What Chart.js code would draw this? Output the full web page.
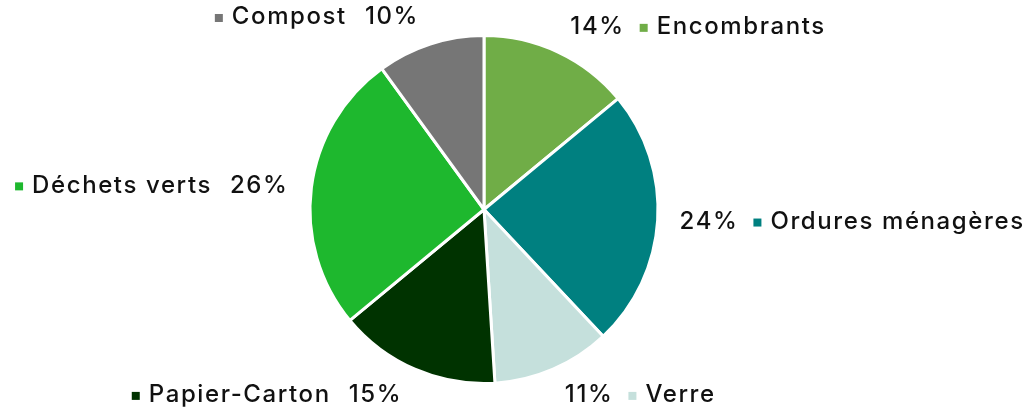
<!doctype html>
<html lang="fr">
<head>
  <meta charset="utf-8" />
  <title>Répartition des déchets</title>
  <script src="https://cdn.jsdelivr.net/npm/chart.js@4.4.3/dist/chart.umd.min.js"></script>
  <style>
    html, body { margin: 0; padding: 0; background: #fff; }
    .chart-wrap { position: relative; width: 1029px; height: 414px; }
  </style>
</head>
<body>
  <div class="chart-wrap">
    <canvas id="pieChart"></canvas>
  </div>
  <script>
    const categories = ["Encombrants", "Ordures ménagères", "Verre", "Papier-Carton", "Déchets verts", "Compost"];
    const shares = [14, 24, 11, 15, 26, 10];
    const sliceColors = ["#70ad47", "#008080", "#c5e0dc", "#003300", "#1eb82e", "#767676"];

    const FONT = "500 24px Inter, 'DejaVu Sans', sans-serif";

    // labels outside the pie: "pct ■ name" on the right side, "■ name pct" on the left
    const outsideLabels = {
      id: "outsideLabels",
      afterDatasetsDraw(chart) {
        const ctx = chart.ctx;
        const meta = chart.getDatasetMeta(0);
        ctx.save();
        ctx.font = FONT;
        ctx.letterSpacing = "1.6px";
        ctx.textBaseline = "middle";
        ctx.textAlign = "left";
        meta.data.forEach((arc, i) => {
          const p = arc.getProps(["x", "y", "startAngle", "endAngle", "outerRadius"], true);
          const mid = (p.startAngle + p.endAngle) / 2;
          const r = p.outerRadius + 17;
          const ax = p.x + Math.cos(mid) * r;
          const ay = p.y + Math.sin(mid) * r;
          const ty = ay + 12 * Math.sin(mid) * Math.abs(Math.sin(mid));
          const pct = shares[i] + "%";
          const name = categories[i];
          const pctW = ctx.measureText(pct).width;
          const nameW = ctx.measureText(name).width;
          const sq = 8;
          if (ax >= p.x) {
            let x = ax + 5;
            ctx.fillStyle = "#111";
            ctx.fillText(pct, x, ty);
            x += pctW + 15;
            ctx.fillStyle = sliceColors[i];
            ctx.fillRect(x, ty - sq / 2 + 1, sq, sq);
            x += sq + 9;
            ctx.fillStyle = "#111";
            ctx.fillText(name, x, ty);
          } else {
            const total = sq + 9 + nameW + 18 + pctW;
            let x = ax - 6 - total;
            ctx.fillStyle = sliceColors[i];
            ctx.fillRect(x, ty - sq / 2 + 1, sq, sq);
            x += sq + 9;
            ctx.fillStyle = "#111";
            ctx.fillText(name, x, ty);
            x += nameW + 18;
            ctx.fillText(pct, x, ty);
          }
        });
        ctx.restore();
      },
    };

    new Chart(document.getElementById("pieChart"), {
      type: "pie",
      data: {
        labels: categories,
        datasets: [{
          data: shares,
          backgroundColor: sliceColors,
          borderColor: "#ffffff",
          borderWidth: 3,
        }],
      },
      options: {
        responsive: true,
        maintainAspectRatio: false,
        animation: false,
        layout: { padding: { top: 34, bottom: 29, left: 100, right: 161 } },
        plugins: {
          legend: { display: false },
          tooltip: { enabled: false },
        },
      },
      plugins: [outsideLabels],
    });
  </script>
</body>
</html>
